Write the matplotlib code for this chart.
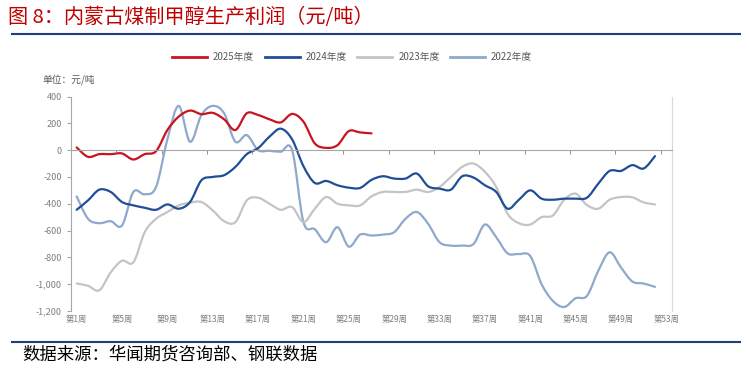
import matplotlib
matplotlib.use('Agg')
import matplotlib.pyplot as plt
import numpy as np
from matplotlib.ticker import StrMethodFormatter, FixedLocator
from matplotlib.lines import Line2D
from matplotlib.path import Path
from matplotlib.patches import PathPatch

plt.rcParams['font.family'] = ['Noto Sans CJK SC', 'DejaVu Sans']
plt.rcParams['axes.unicode_minus'] = False

# 周利润 (元/吨)
y2025 = [20, -50, -30, -30, -25, -70, -30, -8, 150, 250, 295, 268, 278,
         230, 150, 275, 262, 230, 207, 270, 212, 50, 17, 37, 142, 132, 125]
y2024 = [-445, -375, -295, -312, -387, -412, -430, -445, -405, -437, -387, -225, -200,
         -187, -125, -30, 15, 100, 160, 80, -120, -245, -230, -262, -280, -282, -222,
         -195, -212, -212, -175, -270, -287, -295, -195, -205, -262, -312, -437, -370, -300,
         -362, -370, -362, -362, -355, -250, -155, -155, -112, -137, -45]
y2023 = [-995, -1012, -1045, -912, -825, -837, -612, -512, -462, -412, -392, -387, -450,
         -530, -537, -375, -355, -400, -445, -425, -537, -437, -350, -400, -412, -412, -345,
         -312, -312, -312, -295, -312, -275, -200, -125, -100, -162, -275, -475, -545, -555,
         -500, -487, -370, -325, -410, -437, -370, -350, -352, -390, -405]
y2022 = [-345, -512, -545, -530, -562, -312, -330, -275, 80, 330, 62, 262, 330,
         275, 62, 112, 0, -5, -12, 0, -537, -590, -687, -575, -720, -630, -637,
         -630, -612, -512, -462, -550, -687, -712, -712, -700, -555, -650, -770, -775, -790,
         -1000, -1125, -1170, -1105, -1087, -900, -762, -875, -980, -995, -1020]

series = [('2022年度', y2022, '#8EA9CC'),
          ('2023年度', y2023, '#C4C4C4'),
          ('2024年度', y2024, '#1F4E96'),
          ('2025年度', y2025, '#C8141E')]

tick_weeks = list(range(1, 54, 4))
tick_labels = ['第%d周' % w for w in tick_weeks]


def smooth_path(xs, ys):
    # Excel 式平滑线：经过每个数据点的三次贝塞尔
    p = np.column_stack([xs, ys]).astype(float)
    n = len(p)
    verts = [p[0]]
    codes = [Path.MOVETO]
    for i in range(n - 1):
        p0 = p[i - 1] if i > 0 else p[i]
        p1 = p[i]
        p2 = p[i + 1]
        p3 = p[i + 2] if i + 2 < n else p[i + 1]
        c1 = p1 + (p2 - p0) / 6
        c2 = p2 - (p3 - p1) / 6
        verts += [c1, c2, p2]
        codes += [Path.CURVE4] * 3
    return Path(verts, codes)


fig = plt.figure(figsize=(7.49, 3.69), dpi=100)
ax = fig.add_axes([71 / 749, 1 - 311 / 369, 601 / 749, 214.5 / 369])

handles = {}
for name, vals, col in series:
    wk = list(range(1, len(vals) + 1))
    ax.add_patch(PathPatch(smooth_path(wk, vals), facecolor='none', edgecolor=col,
                           lw=1.6, capstyle='round', joinstyle='round'))
    handles[name] = Line2D([], [], color=col, lw=2)

ax.set_xlim(0.5, 53.5)
ax.set_ylim(-1200, 400)
ax.set_yticks(range(-1200, 401, 200))
ax.yaxis.set_major_formatter(StrMethodFormatter('{x:,.0f}'))

ax.spines['top'].set_visible(False)
ax.spines['right'].set_color('#D9D9D9')
ax.spines['left'].set_color('#A6A6A6')
ax.spines['bottom'].set_position(('data', 0))
ax.spines['bottom'].set_color('#A6A6A6')

ax.set_xticks(tick_weeks)
ax.set_xticklabels(tick_labels)
ax.xaxis.set_minor_locator(FixedLocator([w + 3.5 for w in tick_weeks[:-1]]))
ax.tick_params(axis='x', which='major', length=0, pad=119, labelsize=6, labelcolor='#7F7F7F')
ax.tick_params(axis='x', which='minor', length=3, color='#7F7F7F', direction='out')
ax.tick_params(axis='y', length=3, color='#A6A6A6', labelsize=6.5, labelcolor='#7F7F7F')

order = ['2025年度', '2024年度', '2023年度', '2022年度']
fig.legend([handles[k] for k in order], order, loc='center',
           bbox_to_anchor=(352 / 749, 1 - 57 / 369), ncol=4, frameon=False,
           fontsize=7, handlelength=3.6, handletextpad=0.6, columnspacing=1.1,
           labelcolor='#595959')

fig.text(42 / 749, 1 - 80 / 369, '单位：元/吨', fontsize=7, color='#595959', va='center')

fig.text(8 / 749, 1 - 17 / 369, '图 8：内蒙古煤制甲醇生产利润（元/吨）', fontsize=14.5,
         color='#C00000', va='center')
fig.add_artist(Line2D([12 / 749, 740 / 749], [1 - 34 / 369] * 2, color='#1F3E7A', lw=1.5))
fig.add_artist(Line2D([12 / 749, 740 / 749], [1 - 342 / 369] * 2, color='#1F3E7A', lw=1.5))
fig.text(22 / 749, 1 - 355 / 369, '数据来源：华闻期货咨询部、钢联数据', fontsize=12.5,
         color='black', va='center')

fig.savefig('out.png', dpi=100)
